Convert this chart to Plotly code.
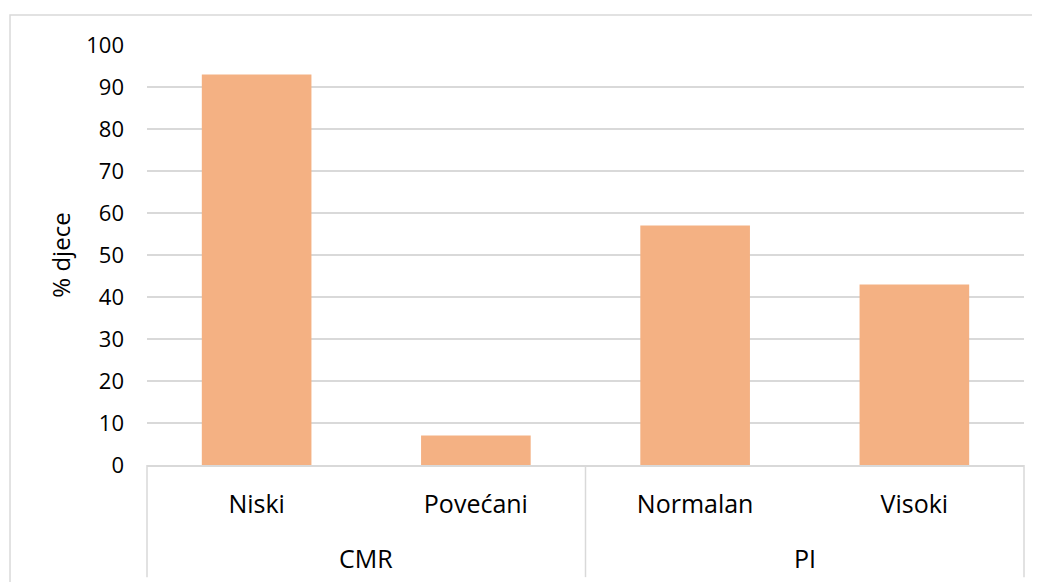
import plotly.graph_objects as go

groups = ["CMR", "CMR", "PI", "PI"]
categories = ["Niski", "Povećani", "Normalan", "Visoki"]
values = [93, 7, 57, 43]
y_ticks = list(range(0, 101, 10))
y_title = "% djece"

BAR = "#F4B183"
GRID = "#D9D9D9"
TXT = "#000000"

xs = list(range(len(categories)))

fig = go.Figure()
fig.add_trace(go.Bar(
    x=xs, y=values, width=0.5,
    marker=dict(color=BAR, line=dict(width=0)),
    hoverinfo="skip",
))

# group labels (outer level of the category axis)
uniq = []
for g in groups:
    if g not in uniq:
        uniq.append(g)
for g in uniq:
    idx = [i for i, gg in enumerate(groups) if gg == g]
    fig.add_annotation(
        x=sum(idx) / len(idx), xref="x", y=-0.2214, yref="paper",
        text=g, showarrow=False, yanchor="middle",
        font=dict(family="Open Sans", size=25, color=TXT),
    )

shapes = []
# dividers between groups, and at both ends
div_pos = [0.0]
for i in range(1, len(groups)):
    if groups[i] != groups[i - 1]:
        div_pos.append(i / len(groups))
div_pos.append(1.0)
for p in div_pos:
    shapes.append(dict(type="line", xref="paper", yref="paper",
                       x0=p, x1=p, y0=0, y1=-0.267,
                       line=dict(color=GRID, width=1.5)))
# chart frame (top and left visible)
shapes.append(dict(type="rect", xref="paper", yref="paper",
                   x0=-0.1562, x1=1.2, y0=-0.5, y1=1.0714,
                   line=dict(color=GRID, width=1.5), fillcolor="rgba(0,0,0,0)",
                   layer="below"))

fig.update_layout(
    width=1032, height=574,
    margin=dict(l=139, r=16, t=37, b=117),
    paper_bgcolor="white", plot_bgcolor="white",
    showlegend=False,
    shapes=shapes,
    bargap=0.5,
    xaxis=dict(
        tickmode="array", tickvals=xs, ticktext=categories,
        range=[-0.5, len(categories) - 0.5],
        showgrid=False, zeroline=False,
        showline=True, linecolor=GRID, linewidth=1.5,
        ticks="", ticklabelstandoff=16,
        tickfont=dict(family="Open Sans", size=25, color=TXT),
        fixedrange=True,
    ),
    yaxis=dict(
        range=[0, 100], tickmode="array", tickvals=y_ticks,
        showgrid=True, gridcolor=GRID, gridwidth=1.5,
        zeroline=False, showline=False, ticks="",
        ticklabelstandoff=22,
        tickfont=dict(family="Open Sans", size=22, color=TXT),
        title=dict(text=y_title, standoff=8,
                   font=dict(family="Open Sans", size=24, color=TXT)),
        fixedrange=True,
    ),
)

fig.write_html("out.html")
